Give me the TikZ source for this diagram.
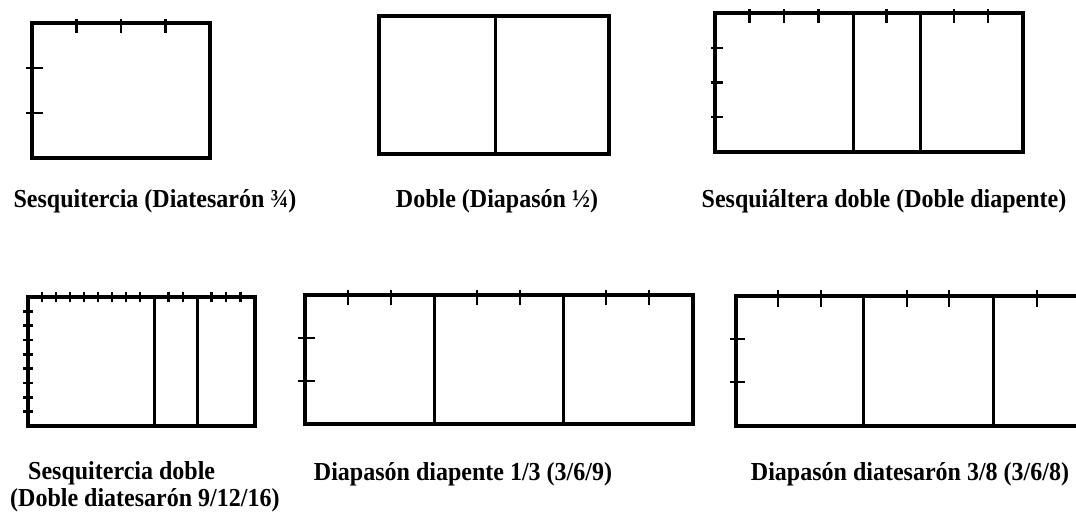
\documentclass[tikz,border=0pt]{standalone}
\usepackage{fontspec}
\setmainfont{Liberation Serif}
\newcommand{\tall}[1]{\scalebox{1}[1.08]{#1}}
\begin{document}
\begin{tikzpicture}[x=1pt,y=-1pt,
  frame/.style={line width=3.2pt,line join=miter},
  divider/.style={line width=3pt},
  tick/.style={line width=2.4pt},
  lab/.style={font=\fontsize{24}{24}\selectfont\bfseries,inner sep=0pt,anchor=base}]
\useasboundingbox (0,0) rectangle (1076,515);
\clip (0,0) rectangle (1076,515);
% ---- Box 1: Sesquitercia
\draw[frame] (32,23) rectangle (210,158);
\foreach \x in {76.5,121,165.5} \draw[tick] (\x,19) -- (\x,33);
\foreach \y in {68,113} \draw[tick] (26,\y) -- (43,\y);
\node[lab] (l1) at (155,207) {\tall{Sesquitercia (Diatesarón ¾)}};
% ---- Box 2: Doble
\draw[frame] (379,16) rectangle (609,154);
\draw[divider] (495,16) -- (495,154);
\node[lab] (l2) at (497,207) {\tall{Doble (Diapasón ½)}};
% ---- Box 3: Sesquialtera doble
\draw[frame] (715,13) rectangle (1023,152);
\draw[divider] (853,13) -- (853,152);
\draw[divider] (920,13) -- (920,152);
\foreach \x in {749.5,784,818.5,886.5,954,988} \draw[tick] (\x,9) -- (\x,23);
\foreach \y in {48,82.5,117} \draw[tick] (711,\y) -- (723,\y);
\node[lab] (l3) at (884,207) {\tall{Sesquiáltera doble (Doble diapente)}};
% ---- Box 4: Sesquitercia doble
\draw[frame] (28,297) rectangle (255,426);
\draw[divider] (154,297) -- (154,426);
\draw[divider] (197,297) -- (197,426);
\foreach \i in {1,...,8} \draw[tick] ({28+14*\i},292) -- ({28+14*\i},302);
\foreach \x in {168.3,182.7,211.5,226,240.5} \draw[tick] (\x,292) -- (\x,302);
\foreach \i in {1,...,8} \draw[tick] (23,{297+14.33*\i}) -- (33,{297+14.33*\i});
\node[lab,anchor=base west] (l4a) at (28,479) {\tall{Sesquitercia doble}};
\node[lab,anchor=base west] (l4b) at (10,506) {\tall{(Doble diatesarón 9/12/16)}};
% ---- Box 5: Diapason diapente
\draw[frame] (305,295) rectangle (693,424);
\draw[divider] (434,295) -- (434,424);
\draw[divider] (563,295) -- (563,424);
\foreach \x in {348,391,477,520,606,649} \draw[tick] (\x,290) -- (\x,305);
\foreach \y in {338,381} \draw[tick] (298,\y) -- (315,\y);
\node[lab] (l5) at (463,480) {\tall{Diapasón diapente 1/3 (3/6/9)}};
% ---- Box 6: Diapason diatesaron
\draw[frame] (736,296) rectangle (1079,426);
\draw[divider] (863,296) -- (863,426);
\draw[divider] (993,296) -- (993,426);
\foreach \x in {778,821,907,949,1037} \draw[tick] (\x,290) -- (\x,307);
\foreach \y in {339,382} \draw[tick] (730,\y) -- (745,\y);
\node[lab] (l6) at (910,480) {\tall{Diapasón diatesarón 3/8 (3/6/8)}};
\end{tikzpicture}
\end{document}
